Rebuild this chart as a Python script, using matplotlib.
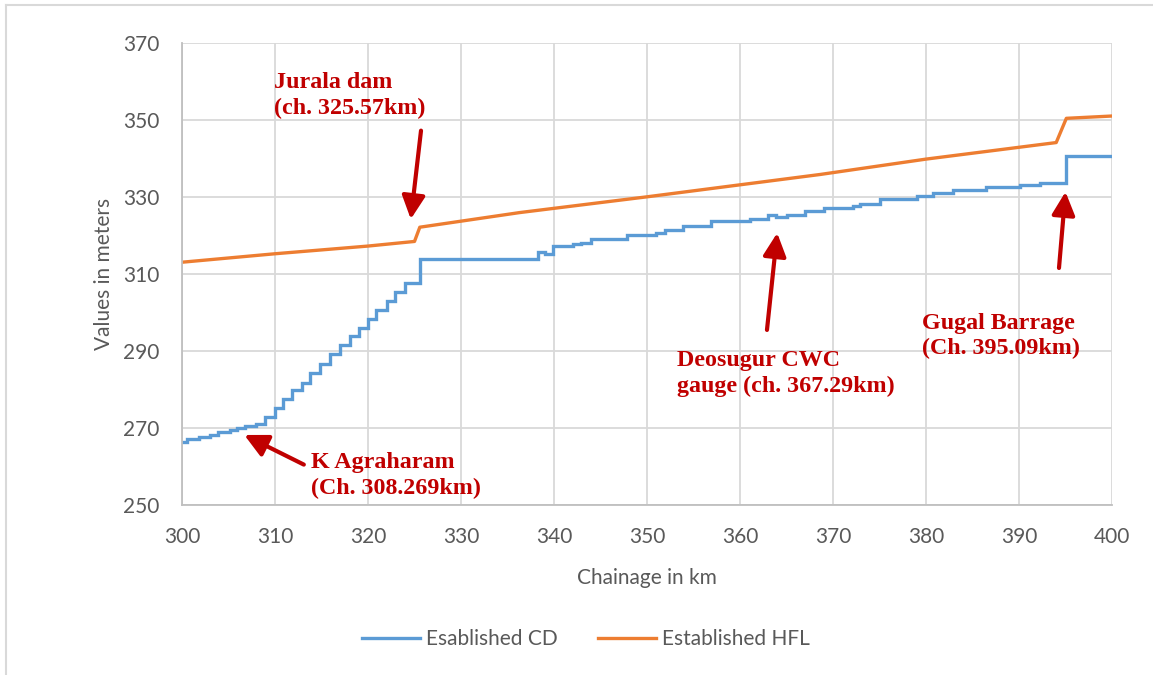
import matplotlib
matplotlib.use("Agg")
import matplotlib.pyplot as plt
from matplotlib.lines import Line2D

# ======================================================
# Data
# ======================================================
cd_km = [300.0, 300.5, 301.8, 303.0, 303.9, 305.2, 305.9, 306.8, 308.0,
         308.9, 310.0, 310.9, 311.8, 312.9, 313.8, 314.8, 315.9, 317.0, 318.1,
         319.0, 320.0, 320.9, 322.0, 322.9, 324.0, 325.57,
         338.3, 339.0, 339.9, 342.0, 342.9, 344.0, 347.8, 351.0, 351.9, 353.9,
         356.9, 361.1, 363.0, 363.9, 365.0, 367.0,
         369.0, 372.2, 372.9, 375.1, 379.0, 380.8, 382.9, 386.5, 390.1, 392.3,
         395.09, 400.0]
cd_m = [266.5, 267.2, 267.8, 268.2, 268.9, 269.5, 270.1, 270.6, 271.0,
        273.0, 275.3, 277.5, 279.8, 281.8, 284.3, 286.7, 289.3, 291.5, 293.9,
        296.0, 298.4, 300.7, 302.9, 305.3, 307.7, 313.9,
        315.8, 315.2, 317.2, 317.8, 318.2, 319.2, 320.3, 320.8, 321.6, 322.5,
        323.8, 324.4, 325.5, 324.9, 325.5, 326.4,
        327.3, 327.7, 328.3, 329.6, 330.3, 331.0, 332.0, 332.7, 333.3, 333.7,
        340.8, 340.8]

hfl_km = [300.0, 310.0, 320.0, 325.0, 325.57, 336.3, 350.0, 368.6, 380.0,
          394.0, 395.09, 400.0]
hfl_m = [313.1, 315.3, 317.3, 318.5, 322.2, 326.0, 330.1, 335.9, 339.9,
         344.2, 350.5, 351.1]

x_ticks = list(range(300, 401, 10))
y_ticks = list(range(250, 371, 20))

labels = ["Jurala dam\n(ch. 325.57km)",
          "K Agraharam\n(Ch. 308.269km)",
          "Deosugur CWC\ngauge (ch. 367.29km)",
          "Gugal Barrage\n(Ch. 395.09km)"]

# ======================================================
# Style
# ======================================================
TXT = "#595959"
GRID = "#D9D9D9"
RED = "#C00000"
plt.rcParams["font.family"] = ["Lato", "DejaVu Sans"]

fig = plt.figure(figsize=(11.53, 6.75), dpi=100)
ax = fig.add_axes([182 / 1153, 170 / 675, 930 / 1153, 461.7 / 675])

ax.plot(cd_km, cd_m, drawstyle="steps-post", color="#5B9BD5", lw=2.4,
        label="Esablished CD", solid_joinstyle="miter")
ax.plot(hfl_km, hfl_m, color="#ED7D31", lw=2.4, label="Established HFL")

ax.set_xlim(300, 400)
ax.set_ylim(250, 370)
ax.set_xticks(x_ticks)
ax.set_yticks(y_ticks)
ax.grid(True, color=GRID, lw=1.3)
ax.set_axisbelow(True)
for s in ["top", "right"]:
    ax.spines[s].set_visible(False)
for s in ["left", "bottom"]:
    ax.spines[s].set_color("#BFBFBF")
    ax.spines[s].set_linewidth(1.3)
ax.tick_params(axis="both", length=0, labelsize=15, labelcolor=TXT)
ax.tick_params(axis="x", pad=16)
ax.tick_params(axis="y", pad=16)
ax.set_xlabel("Chainage in km", fontsize=15, color=TXT, labelpad=15)
ax.set_ylabel("Values in meters", fontsize=15, color=TXT, labelpad=7)

# ======================================================
# Annotations
# ======================================================
font_ann = dict(family=["Liberation Serif", "DejaVu Serif"], weight="bold",
                fontsize=17.3, color=RED, ha="left", va="center", linespacing=1.28)
ax.text(309.9, 356.4, labels[0], **font_ann)
ax.text(313.9, 257.7, labels[1], **font_ann)
ax.text(353.2, 284.2, labels[2], **font_ann)
ax.text(379.6, 293.9, labels[3], **font_ann)

arrow = dict(arrowstyle="-|>,head_length=0.7,head_width=0.35", color=RED,
             lw=3, mutation_scale=20, shrinkA=0, shrinkB=0)
ax.annotate("", xy=(324.6, 324.3), xytext=(325.7, 347.3), arrowprops=arrow)
ax.annotate("", xy=(306.7, 268.2), xytext=(313.1, 260.5), arrowprops=arrow)
ax.annotate("", xy=(364.0, 320.7), xytext=(362.9, 295.5), arrowprops=arrow)
ax.annotate("", xy=(395.0, 331.4), xytext=(394.3, 311.6), arrowprops=arrow)

fig.legend(loc="center", bbox_to_anchor=(586 / 1153, 36 / 675), ncol=2,
           frameon=False, fontsize=15, labelcolor=TXT, handlelength=2.8,
           columnspacing=1.9, handletextpad=0.3)

# chart frame (top and left edges visible in the source)
fig.add_artist(Line2D([6 / 1153, 1], [670 / 675, 670 / 675],
                      transform=fig.transFigure, color=GRID, lw=1.5))
fig.add_artist(Line2D([6 / 1153, 6 / 1153], [0, 670 / 675],
                      transform=fig.transFigure, color=GRID, lw=1.5))

fig.savefig("out.png", dpi=100)
